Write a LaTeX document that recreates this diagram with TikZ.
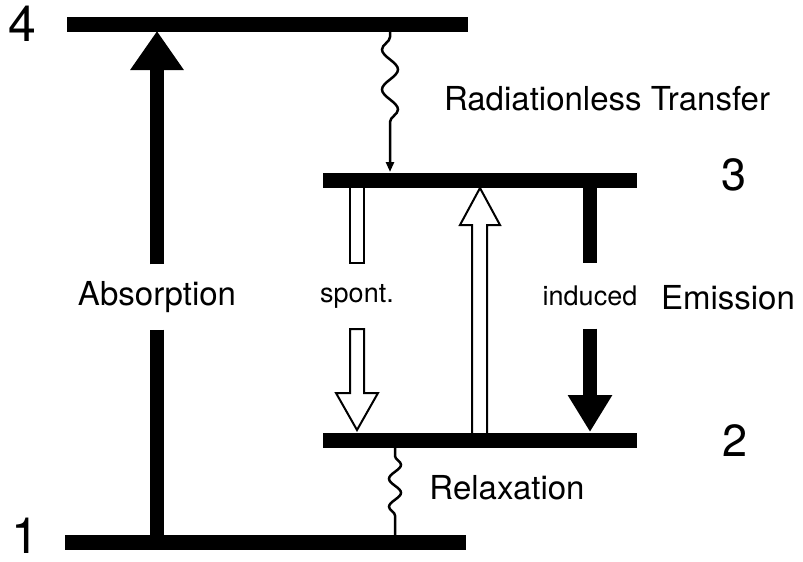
\documentclass[tikz,border=0pt]{standalone}
\usepackage{fontspec}
\setmainfont{TeX Gyre Heros}
\usetikzlibrary{arrows.meta,decorations.pathmorphing}

\tikzset{
  level/.style={line width=15pt},
  txt/.style={font=\fontsize{33}{33}\selectfont},
  small/.style={font=\fontsize{27}{27}\selectfont},
  bignum/.style={font=\fontsize{50}{50}\selectfont, inner sep=0pt},
  num/.style={font=\fontsize{45}{45}\selectfont, inner sep=0pt},
  gap/.style={minimum height=65pt, inner sep=0pt},
  fullarrow/.style={line width=14pt},
  hollow/.style={draw, line width=2pt, fill=white, line join=miter},
  wavy/.style={line width=2.5pt, decorate},
}

\begin{document}
\begin{tikzpicture}[x=1pt,y=-1pt]
  \useasboundingbox (0,0) rectangle (803,562);

  % energy levels (centre lines, top and bottom faces)
  \coordinate (L4w) at (67,24);  \coordinate (L4e) at (468,24);
  \coordinate (L3w) at (323,180); \coordinate (L3e) at (637,180);
  \coordinate (L2w) at (323,440); \coordinate (L2e) at (637,440);
  \coordinate (L1w) at (65,542);  \coordinate (L1e) at (466,542);
  \coordinate (L4b) at (0,31);   \coordinate (L3t) at (0,172);
  \coordinate (L2t) at (0,432);  \coordinate (L1t) at (0,535);

  % labels
  \node[bignum] (n4) at (22,24) {4};
  \node[num] (n3) at (734,175) {3};
  \node[num] (n2) at (735,441) {2};
  \node[bignum] (n1) at (25,536) {1};
  \node[txt, gap] (abs) at (157,297) {Absorption};
  \node[small, gap] (spont) at (357,296) {spont.};
  \node[small, gap] (ind) at (590,296) {induced};
  \node[txt] (emis) at (728,298) {Emission};
  \node[txt] (radl) at (607,99) {Radiationless Transfer};
  \node[txt] (relax) at (507,488) {Relaxation};

  % absorption 1 -> 4
  \draw[fullarrow] (abs.south) -- (abs.south |- L1w);
  \draw[fullarrow, -{Triangle[width=51pt,length=39pt]}] (abs.north) -- (abs.north |- L4b);

  % radiationless transfer 4 -> 3
  \coordinate (rt) at (390,31);
  \draw[wavy, decoration={snake, mirror, amplitude=8pt, segment length=40pt,
      pre length=6pt, post length=35pt}, -{Triangle[width=8pt,length=10pt]}]
    (rt) -- (rt |- L3t);

  % relaxation 2 -> 1
  \coordinate (rx) at (395,447);
  \draw[wavy, decoration={snake, amplitude=6pt, segment length=28pt,
      pre length=9pt, post length=8pt}]
    (rx) -- (rx |- L1t);

  % spontaneous emission 3 -> 2
  \draw[hollow] (350,180) rectangle (364,263);
  \draw[hollow] (350,329) -- (350,393) -- (336,393) -- (357,430)
    -- (378,393) -- (364,393) -- (364,329) -- cycle;

  % pumping 2 -> 3
  \draw[hollow] (472,440) -- (472,225) -- (460,225) -- (480,188)
    -- (500,225) -- (487,225) -- (487,440) -- cycle;

  % induced emission 3 -> 2
  \draw[fullarrow] (ind.north |- L3w) -- (ind.north);
  \draw[fullarrow, -{Triangle[width=42pt,length=37pt]}] (ind.south) -- (ind.south |- L2t);

  % level bars
  \draw[level] (L4w) -- (L4e);
  \draw[level] (L3w) -- (L3e);
  \draw[level] (L2w) -- (L2e);
  \draw[level] (L1w) -- (L1e);
\end{tikzpicture}
\end{document}
